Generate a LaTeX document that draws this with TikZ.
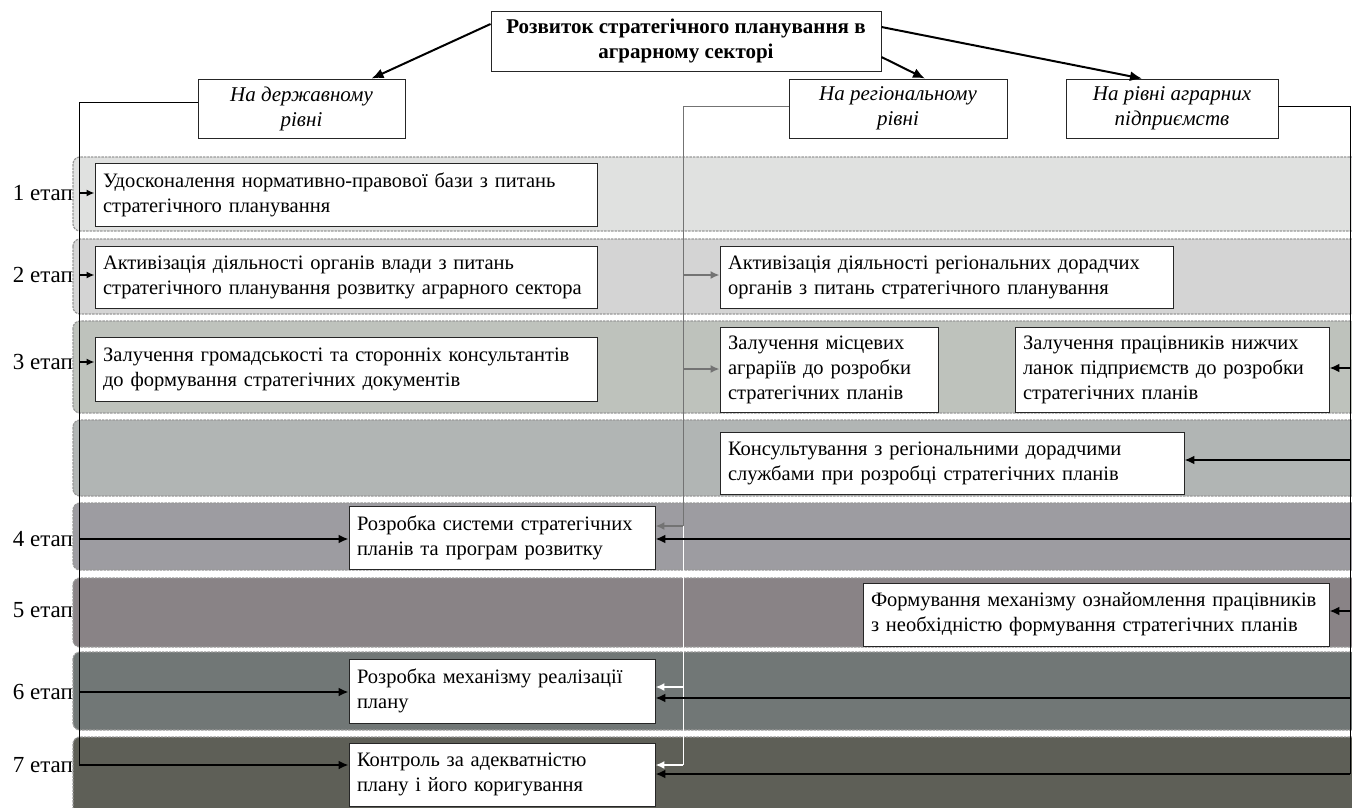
\documentclass[tikz,border=0pt]{standalone}
\usepackage{fontspec}
\setmainfont{Liberation Serif}
\usetikzlibrary{arrows.meta}
\definecolor{bA}{HTML}{E0E1E0}
\definecolor{bB}{HTML}{D4D4D4}
\definecolor{bC}{HTML}{BEC2BC}
\definecolor{bD}{HTML}{B1B5B4}
\definecolor{bE}{HTML}{9D9CA1}
\definecolor{bF}{HTML}{898386}
\definecolor{bG}{HTML}{717776}
\definecolor{bH}{HTML}{5E5F57}
\begin{document}
\begin{tikzpicture}[x=1pt,y=-1pt,
  band/.style={draw=black!40, dash pattern=on 2.5pt off 1pt, line width=1.2pt, rounded corners=7pt},
  box/.style={draw=black!85, line width=0.9pt, fill=white, inner xsep=8pt, inner ysep=0pt,
    font=\fontsize{20.5}{25}\selectfont, align=left},
  hdr/.style={draw=black!85, line width=0.9pt, fill=white, inner sep=0pt, align=center,
    font=\fontsize{21}{25}\selectfont\itshape},
  etap/.style={anchor=east, inner sep=0pt, font=\fontsize{23}{26}\selectfont},
  arr/.style={line width=2.6pt, -{Latex[length=10pt,width=9pt]}},
  sarr/.style={line width=1.6pt, -{Latex[length=8pt,width=7pt]}},
  garr/.style={draw=black!55, line width=2.2pt, -{Latex[length=9pt,width=8pt]}},
  warr/.style={draw=white, line width=2.2pt, -{Latex[length=9pt,width=8pt]}},
  tarr/.style={line width=2pt, -{Latex[length=12pt,width=10pt]}},
  thin/.style={line width=1pt}
]
\useasboundingbox (0,0) rectangle (1352,807);
\begin{scope}
\clip (0,0) rectangle (1352,807);
\draw[band, fill=bA] (73,157) rectangle (1370,231);
\draw[band, fill=bB] (73,239) rectangle (1370,314);
\draw[band, fill=bC] (73,321) rectangle (1370,413);
\draw[band, fill=bD] (73,420) rectangle (1370,496);
\draw[band, fill=bE] (73,503) rectangle (1370,570);
\draw[band, fill=bF] (73,578) rectangle (1370,647);
\draw[band, fill=bG] (73,652) rectangle (1370,730);
\draw[band, fill=bH] (73,737) rectangle (1370,825);
\end{scope}

% headers
\node[hdr, font=\fontsize{21}{25}\selectfont\bfseries, minimum width=390pt, minimum height=60pt] (title) at (686,41)
  {Розвиток стратегічного планування в\\аграрному секторі};
\node[hdr, minimum width=207pt, minimum height=59pt] (state) at (301.5,108.5) {На державному\\рівні};
\node[hdr, minimum width=218pt, minimum height=59pt] (reg) at (898,108.5) {На регіональному\\рівні};
\node[hdr, minimum width=212pt, minimum height=59pt] (ent) at (1172,108.5) {На рівні аграрних\\підприємств};

\draw[tarr] ([yshift=17pt]title.west) -- ([xshift=70pt]state.north);
\draw[tarr] ([yshift=-16pt]title.east) -- ([xshift=27pt]reg.north);
\draw[tarr] ([yshift=14pt]title.east) -- ([xshift=-30pt]ent.north);

% boxes
\node[box, text width=486pt, minimum height=63pt] (b1) at (346,194.5)
  {\makebox[464pt][s]{Удосконалення нормативно-правової бази з питань}\\стратегічного планування};
\node[box, text width=486pt, minimum height=62pt] (b2) at (346,277)
  {Активізація діяльності органів влади з питань\\стратегічного планування розвитку аграрного сектора};
\node[box, text width=486pt, minimum height=64pt] (b3) at (346,369)
  {Залучення громадськості та сторонніх консультантів\\до формування стратегічних документів};
\node[box, text width=437pt, minimum height=62pt] (r2) at (946.5,277)
  {\makebox[437pt][s]{Активізація діяльності регіональних дорадчих}\\органів з питань стратегічного планування};
\node[box, text width=202pt, minimum height=85pt] (r3) at (829,369.5)
  {Залучення місцевих\\аграріїв до розробки\\стратегічних планів};
\node[box, text width=298pt, minimum height=85pt] (e3) at (1172,369.5)
  {Залучення працівників нижчих\\ланок підприємств до розробки\\стратегічних планів};
\node[box, text width=448pt, minimum height=62pt] (cons) at (952,463)
  {\makebox[448pt][s]{Консультування з регіональними дорадчими}\\службами при розробці стратегічних планів};
\node[box, text width=290pt, minimum height=63pt] (b4) at (502,537.5)
  {Розробка системи стратегічних\\планів та програм розвитку};
\node[box, text width=450pt, minimum height=63pt] (b5) at (1096,614.5)
  {Формування механізму ознайомлення працівників\\з необхідністю формування стратегічних планів};
\node[box, text width=290pt, minimum height=64pt] (b6) at (502,691)
  {Розробка механізму реалізації\\плану};
\node[box, text width=290pt, minimum height=63pt] (b7) at (502,774.5)
  {Контроль за адекватністю\\плану і його коригування};

% stage labels
\node[etap] (s1) at (73,193) {1 етап};
\node[etap] (s2) at (73,275) {2 етап};
\node[etap] (s3) at (73,362) {3 етап};
\node[etap] (s4) at (73,539) {4 етап};
\node[etap] (s5) at (73,610) {5 етап};
\node[etap] (s6) at (73,692) {6 етап};
\node[etap] (s7) at (73,765) {7 етап};

% coordinates
\coordinate (L1) at (79,193);
\coordinate (L2) at (79,275);
\coordinate (L3) at (79,362);
\coordinate (L4) at (79,539);
\coordinate (L6) at (79,692);
\coordinate (L7) at (79,765);
\coordinate (G2) at (683,275);
\coordinate (G3) at (683,369);
\coordinate (G4) at (683,526);
\coordinate (G6) at (683,687);
\coordinate (G7) at (683,765);
\coordinate (R3) at (1350,368);
\coordinate (RC) at (1350,460);
\coordinate (R4) at (1350,539);
\coordinate (R5) at (1350,611);
\coordinate (R6) at (1350,698);
\coordinate (R7) at (1350,774);

% vertical lines
\draw[thin] ([yshift=6.5pt]state.west) -| (L7);
\draw[thin] ([yshift=2.5pt]ent.east) -| (R7);
\draw[thin, draw=black!55] ([yshift=2.5pt]reg.west) -| (G4);
\draw[thin, draw=white] (G4) -- (G7);

% left arrows
\draw[sarr] (L1) -- (L1 -| b1.west);
\draw[sarr] (L2) -- (L2 -| b2.west);
\draw[sarr] (L3) -- (L3 -| b3.west);
\draw[arr] (L4) -- (L4 -| b4.west);
\draw[arr] (L6) -- (L6 -| b6.west);
\draw[arr] (L7) -- (L7 -| b7.west);

% regional arrows
\draw[garr] (G2) -- (G2 -| r2.west);
\draw[garr] (G3) -- (G3 -| r3.west);
\draw[garr] (G4) -- (G4 -| b4.east);
\draw[warr] (G6) -- (G6 -| b6.east);
\draw[warr] (G7) -- (G7 -| b7.east);

% right arrows
\draw[arr] (R3) -- (R3 -| e3.east);
\draw[arr] (RC) -- (RC -| cons.east);
\draw[arr] (R4) -- (R4 -| b4.east);
\draw[arr] (R5) -- (R5 -| b5.east);
\draw[arr] (R6) -- (R6 -| b6.east);
\draw[arr] (R7) -- (R7 -| b7.east);
\end{tikzpicture}
\end{document}
